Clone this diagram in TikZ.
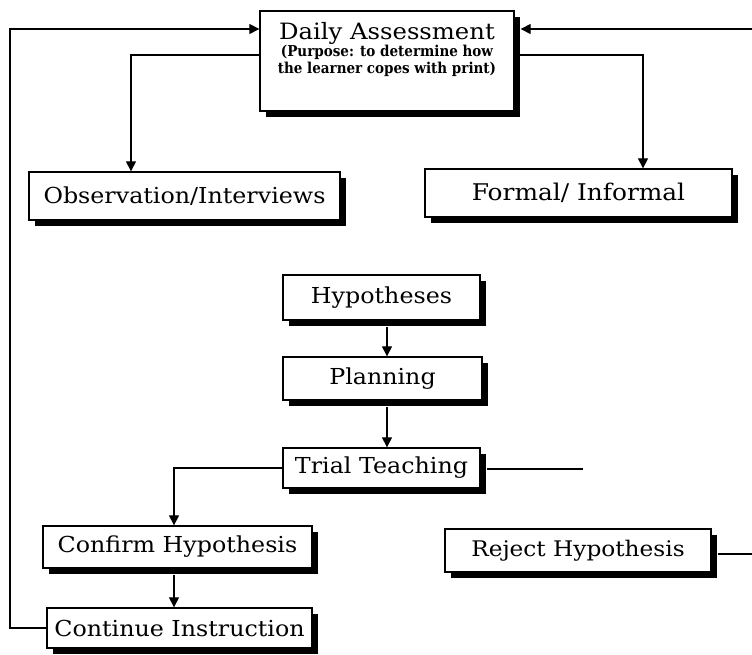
\documentclass[tikz,border=0pt]{standalone}
\usepackage{fontspec}
\setmainfont{DejaVu Serif}[FakeStretch=1.08]
\newfontfamily\subfont{DejaVu Serif Condensed}
\usetikzlibrary{arrows.meta,shadows}
\begin{document}
\begin{tikzpicture}[x=1pt,y=-1pt,
  box/.style={draw, line width=1.3pt, fill=white, align=center, inner sep=0pt,
    drop shadow={shadow xshift=6pt, shadow yshift=-6pt, fill=black, opacity=1},
    font=\fontsize{22}{26}\selectfont},
  arr/.style={line width=1.1pt, -{Triangle[width=10pt,length=10pt]}},
  ln/.style={line width=1.1pt}]
\useasboundingbox (0,0) rectangle (752,655);
% boxes
\node[box, minimum width=254pt, minimum height=100pt] (daily) at (387,61)
  {\fontsize{15}{15.5}\selectfont
   \raisebox{0pt}[\height][\dimexpr\depth+22pt\relax]{%
   \begin{tabular}{@{}c@{}}
   \fontsize{22.5}{24}\selectfont Daily Assessment\\[1.5pt]
   \subfont\bfseries\fontsize{15}{15}\selectfont (Purpose: to determine how\\
   \subfont\bfseries\fontsize{15}{15}\selectfont the learner copes with print)
   \end{tabular}}};
\node[box, minimum width=311pt, minimum height=48pt] (obs) at (184.5,196) {Observation/Interviews};
\node[box, minimum width=307pt, minimum height=48pt, font=\fontsize{23}{26}\selectfont] (formal) at (578.5,193) {Formal/ Informal};
\node[box, minimum width=197pt, minimum height=45pt] (hyp) at (381.5,297.5) {Hypotheses};
\node[box, minimum width=199pt, minimum height=43pt] (plan) at (382.5,378.5) {Planning};
\node[box, minimum width=197pt, minimum height=40pt] (trial) at (381.5,468) {Trial Teaching};
\node[box, minimum width=269pt, minimum height=42pt] (conf) at (177.5,547) {Confirm Hypothesis};
\node[box, minimum width=265pt, minimum height=40pt] (cont) at (179.5,628) {Continue Instruction};
\node[box, minimum width=266pt, minimum height=43pt, font=\fontsize{21.5}{26}\selectfont] (rej) at (578,550.5) {Reject Hypothesis};
% coordinates
\coordinate (tl) at (10,29);
\coordinate (tr) at (752,29);
\coordinate (ml) at (131,55);
\coordinate (mr) at (643,55);
\coordinate (te) at (583,469);
\coordinate (re) at (752,554);
\coordinate (cx) at (387,0);
\coordinate (lx) at (174,0);
% connectors
\draw[arr] (cont.west) -| (tl) -- (tl -| daily.west);
\draw[arr] (tr) -- ([xshift=6pt]tl -| daily.east);
\draw[arr] (ml -| daily.west) -- (ml) -- (ml |- obs.north);
\draw[arr] (mr -| daily.east) -- (mr) -- (mr |- formal.north);
\draw[arr] (cx |- hyp.south) ++(0,6) -- (cx |- plan.north);
\draw[arr] (cx |- plan.south) ++(0,6) -- (cx |- trial.north);
\draw[arr] (trial.west) -| (lx |- conf.north);
\draw[arr] (lx |- conf.south) ++(0,6) -- (lx |- cont.north);
\draw[ln] (te -| trial.east) ++(6,0) -- (te);
\draw[ln] (re -| rej.east) ++(6,0) -- (re);
\end{tikzpicture}
\end{document}
